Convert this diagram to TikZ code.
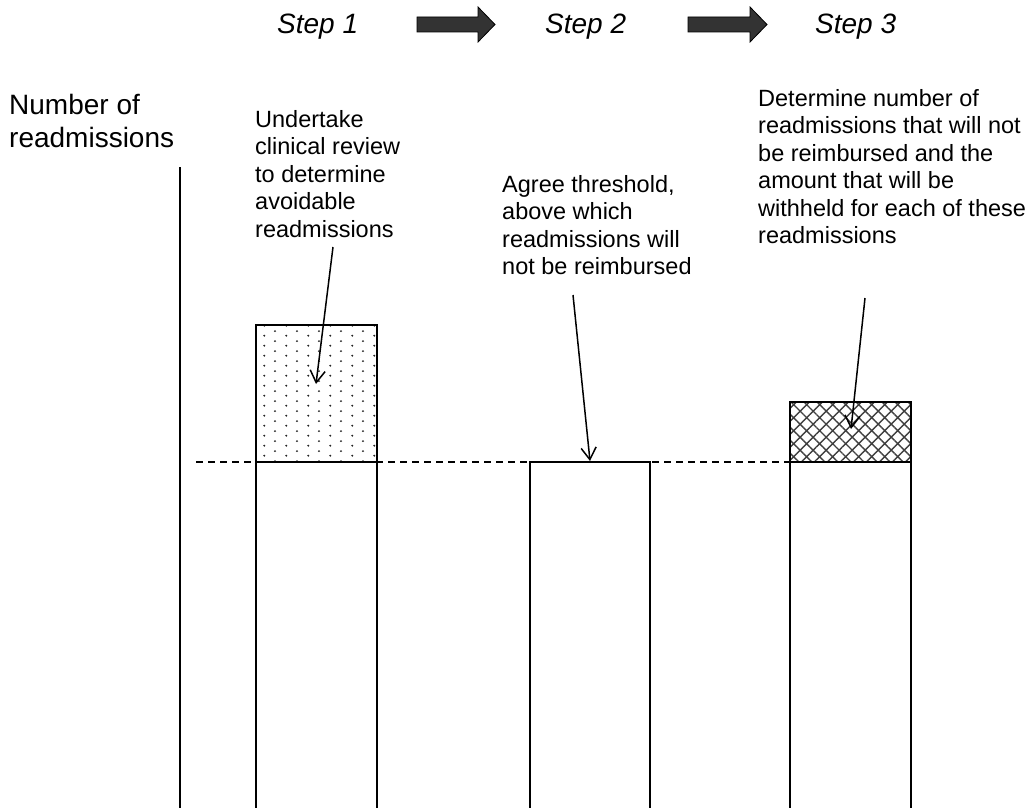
\documentclass[tikz,border=0pt]{standalone}
\usepackage{fontspec}
\setmainfont{Liberation Sans}
\usetikzlibrary{arrows.meta,patterns.meta}
\pgfdeclarepattern{name=stipple, type=uncolored,
  bottom left={\pgfpoint{0pt}{0pt}}, top right={\pgfpoint{21.6pt}{10pt}},
  tile size={\pgfpoint{21.6pt}{10pt}},
  code={\pgfpathcircle{\pgfpoint{5.4pt}{2.5pt}}{1.15pt}\pgfpathcircle{\pgfpoint{16.2pt}{7.5pt}}{1.15pt}\pgfusepath{fill}}}
\begin{document}
\begin{tikzpicture}[x=1pt,y=-1pt,
  bar/.style={draw=black,line width=2pt,fill=white},
  note/.style={anchor=north west,inner sep=0pt,align=left,font=\fontsize{23.5}{27.5}\selectfont},
  axislabel/.style={anchor=north west,inner sep=0pt,align=left,font=\fontsize{28}{33}\selectfont},
  steplabel/.style={anchor=base west,inner sep=0pt,font=\fontsize{28}{32}\selectfont\itshape},
  ptr/.style={line width=1.5pt,-{Straight Barb[length=12pt,width=15pt,line width=1.5pt]}},
  blockarrow/.style={fill=black!80,draw=black,line width=0.8pt,line join=miter},
  threshold/.style={line width=1.4pt,dash pattern=on 7pt off 5pt}]
\useasboundingbox (0,0) rectangle (1036,808);
\fill[white] (0,0) rectangle (1036,808);
% step labels
\node[steplabel] (s1) at (277,34) {Step 1};
\node[steplabel] (s2) at (545,34) {Step 2};
\node[steplabel] (s3) at (815,34) {Step 3};
\draw[blockarrow] (417,17)--(478,17)--(478,7)--(495,24.5)--(478,42)--(478,32)--(417,32)--cycle;
\draw[blockarrow] (688,17)--(750,17)--(750,7)--(767,24.5)--(750,42)--(750,32)--(688,32)--cycle;
% axis
\node[axislabel] (ylab) at (9,94) {Number of\\readmissions};
\coordinate (axtop) at (180,167);
\coordinate (axbot) at (180,808);
\draw[line width=1.2pt] (axtop) -- (axbot);
% threshold
\coordinate (thl) at (196,462);
\coordinate (thr) at (790,462);
\draw[threshold] (thl) -- (thr);
% bars
\draw[bar] (256,462) rectangle (377,830);
\draw[line width=2pt,pattern=stipple,pattern color=black!85] (256,325) rectangle (377,462);
\draw[bar] (530,462) rectangle (650,830);
\draw[bar] (790,462) rectangle (911,830);
\draw[line width=2pt,pattern={Hatch[angle=45,distance=9.2pt,line width=1.4pt]},pattern color=black!75] (790,402) rectangle (911,462);
% notes
\node[note] (n1) at (255,110) {Undertake\\clinical review\\to determine\\avoidable\\readmissions};
\node[note] (n2) at (502,175) {Agree threshold,\\above which\\readmissions will\\not be reimbursed};
\node[note] (n3) at (758,89) {Determine number of\\readmissions that will not\\be reimbursed and the\\amount that will be\\withheld for each of these\\readmissions};
% pointers
\coordinate (p1s) at (333,247);
\coordinate (p1e) at (316,384);
\coordinate (p2s) at (573,295);
\coordinate (p2e) at (590,461);
\coordinate (p3s) at (865,298);
\coordinate (p3e) at (851,429);
\draw[ptr] (p1s) -- (p1e);
\draw[ptr] (p2s) -- (p2e);
\draw[ptr] (p3s) -- (p3e);
\end{tikzpicture}
\end{document}
